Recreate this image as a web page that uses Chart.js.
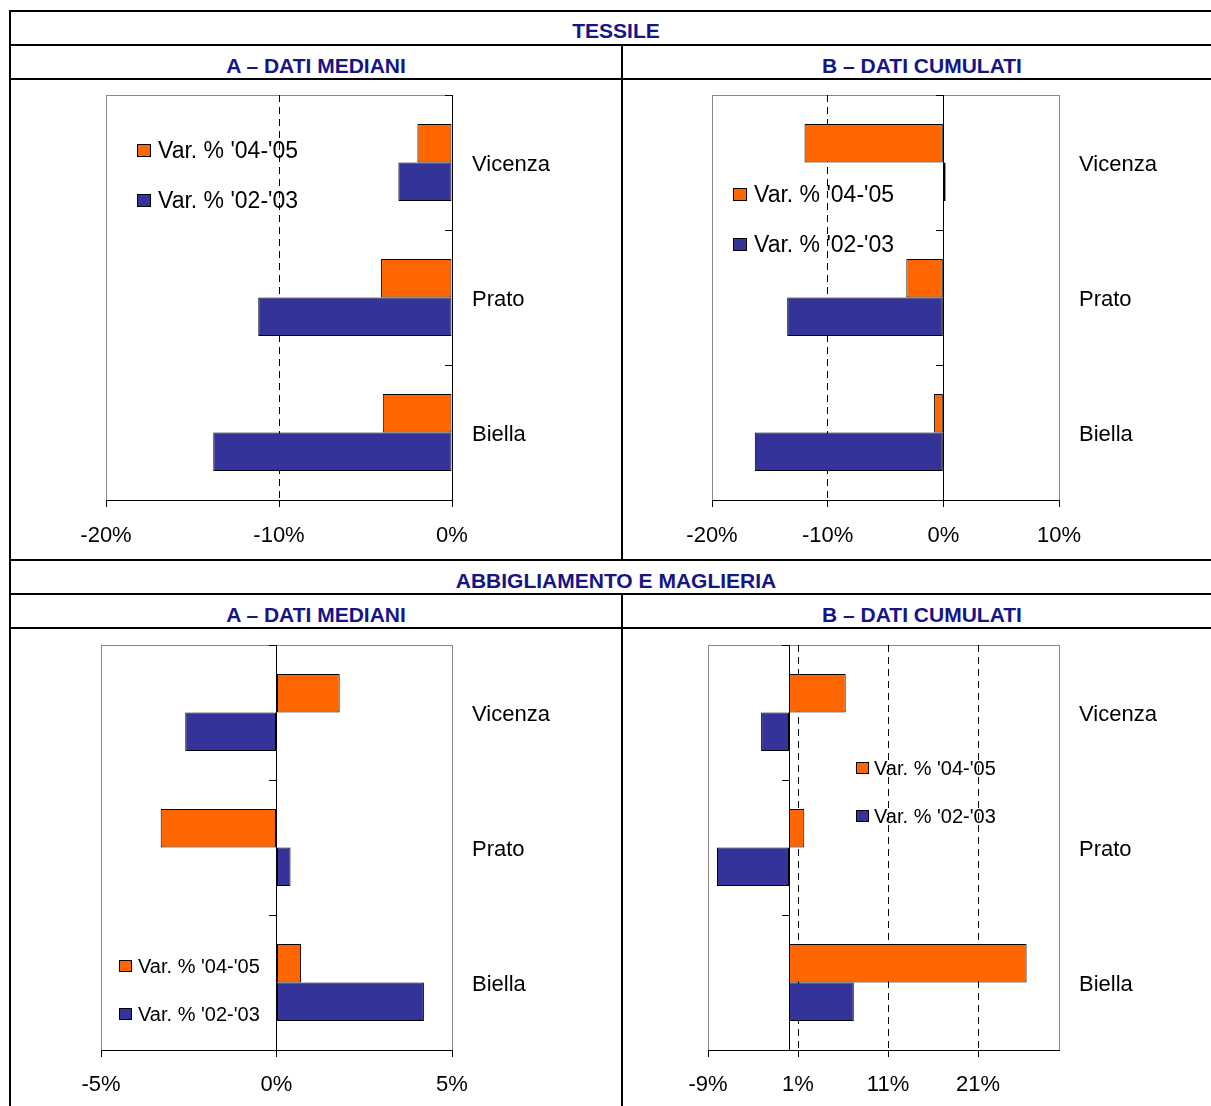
<!DOCTYPE html>
<html>
<head>
<meta charset="UTF-8">
<title>Tessile e abbigliamento - variazioni per distretto</title>
<script src="https://cdn.jsdelivr.net/npm/chart.js"></script>
<style>
    body {
        margin: 0;
        background: #fff;
        font-family: Arial, "Liberation Sans", sans-serif;
        overflow: hidden;
    }
    #page {
        position: relative;
        width: 1211px;
        height: 1106px;
        overflow: hidden;
    }
    .hline, .vline {
        position: absolute;
        background: #000;
    }
    .hline { left: 9px; width: 1230px; height: 2px; }
    .vline { width: 2px; }
    .head {
        position: absolute;
        text-align: center;
        color: #151585;
        font-weight: bold;
        font-size: 21px;
        line-height: 24px;
    }
    .panel { position: absolute; }
    .legend-item {
        position: absolute;
        display: flex;
        align-items: center;
        white-space: nowrap;
        color: #000;
    }
    .legend-box {
        border: 1px solid #000;
        box-sizing: border-box;
    }
</style>
</head>
<body>
<div id="page">
    <!-- table grid -->
    <div class="hline" style="top:10px"></div>
    <div class="hline" style="top:44px"></div>
    <div class="hline" style="top:78px"></div>
    <div class="hline" style="top:559px"></div>
    <div class="hline" style="top:593px"></div>
    <div class="hline" style="top:627px"></div>
    <div class="vline" style="left:9px; top:10px; height:1100px"></div>
    <div class="vline" style="left:621px; top:44px; height:517px"></div>
    <div class="vline" style="left:621px; top:593px; height:520px"></div>

    <div class="head" style="left:11px; width:1210px; top:19px">TESSILE</div>
    <div class="head" style="left:11px; width:610px; top:54px">A – DATI MEDIANI</div>
    <div class="head" style="left:623px; width:598px; top:54px">B – DATI CUMULATI</div>
    <div class="head" style="left:11px; width:1210px; top:569px">ABBIGLIAMENTO E MAGLIERIA</div>
    <div class="head" style="left:11px; width:610px; top:603px">A – DATI MEDIANI</div>
    <div class="head" style="left:623px; width:598px; top:603px">B – DATI CUMULATI</div>

    <div class="panel" style="left:11px; top:80px; width:610px; height:479px"><canvas id="tessileMediani"></canvas></div>
    <div class="panel" style="left:623px; top:80px; width:598px; height:479px"><canvas id="tessileCumulati"></canvas></div>
    <div class="panel" style="left:11px; top:629px; width:610px; height:477px"><canvas id="abbMediani"></canvas></div>
    <div class="panel" style="left:623px; top:629px; width:598px; height:477px"><canvas id="abbCumulati"></canvas></div>
</div>

<script>
    const categories = ['Vicenza', 'Prato', 'Biella'];
    const seriesNames = ["Var. % '04-'05", "Var. % '02-'03"];
    const seriesColors = ['#ff6600', '#333399'];

    // Tessile
    const tessileMediani0405 = [-2.0, -4.1, -4.0];
    const tessileMediani0203 = [-3.1, -11.2, -13.8];
    const tessileMedianiTicks = [-20, -10, 0];
    const tessileMedianiRange = [-20, 0];

    const tessileCumulati0405 = [-12.0, -3.2, -0.8];
    const tessileCumulati0203 = [0.2, -13.5, -16.3];
    const tessileCumulatiTicks = [-20, -10, 0, 10];
    const tessileCumulatiRange = [-20, 10];

    // Abbigliamento e maglieria
    const abbMediani0405 = [1.8, -3.3, 0.7];
    const abbMediani0203 = [-2.6, 0.4, 4.2];
    const abbMedianiTicks = [-5, 0, 5];
    const abbMedianiRange = [-5, 5];

    const abbCumulati0405 = [6.3, 1.7, 26.4];
    const abbCumulati0203 = [-3.1, -8.0, 7.2];
    const abbCumulatiTicks = [-9, 1, 11, 21];
    const abbCumulatiRange = [-9, 30];

    Chart.defaults.font.family = 'Arial, "Liberation Sans", sans-serif';
    Chart.defaults.color = '#000';

    // grey frame round the plot area
    const plotFrame = {
        id: 'plotFrame',
        beforeDraw(chart) {
            const { ctx, chartArea: a } = chart;
            ctx.save();
            ctx.strokeStyle = '#888';
            ctx.lineWidth = 1;
            ctx.strokeRect(Math.round(a.left) + 0.5, Math.round(a.top) + 0.5,
                Math.round(a.right - a.left), Math.round(a.bottom - a.top));
            ctx.restore();
        }
    };

    // area = plot rectangle inside the canvas
    function panel(id, values0405, values0203, ticks, range, area, tickPad) {
        const canvas = document.getElementById(id);
        const box = canvas.parentNode;
        const w = box.clientWidth, h = box.clientHeight;
        return new Chart(canvas, {
            type: 'bar',
            data: {
                labels: categories,
                datasets: [values0405, values0203].map((vals, i) => ({
                    label: seriesNames[i],
                    data: vals,
                    backgroundColor: seriesColors[i],
                    borderColor: '#000',
                    borderWidth: 1,
                    borderSkipped: false,
                    categoryPercentage: 0.57,
                    barPercentage: 1.0
                }))
            },
            options: {
                indexAxis: 'y',
                responsive: true,
                maintainAspectRatio: false,
                animation: false,
                layout: { padding: { left: area.left, top: area.top, right: 0, bottom: 0 } },
                plugins: { legend: { display: false }, tooltip: { enabled: false } },
                scales: {
                    x: {
                        type: 'linear',
                        min: range[0],
                        max: range[1],
                        afterBuildTicks: s => { s.ticks = ticks.map(v => ({ value: v })); },
                        afterFit: s => { s.height = h - area.bottom; },
                        grid: {
                            color: c => (c.tick && c.tick.value !== 0 &&
                                c.tick.value > range[0] && c.tick.value < range[1]) ? '#000' : 'rgba(0,0,0,0)',
                            tickColor: '#000',
                            tickLength: 7
                        },
                        border: { color: '#000', width: 1, dash: [7, 5] },
                        ticks: {
                            font: { size: 22 },
                            padding: tickPad,
                            maxRotation: 0,
                            callback: v => v + '%'
                        }
                    },
                    y: {
                        type: 'category',
                        position: { x: 0 },
                        offset: true,
                        grid: { drawOnChartArea: false, tickLength: 7, color: '#000', offset: true },
                        ticks: { display: false },
                        border: { color: '#000', width: 1 }
                    },
                    y2: {
                        type: 'category',
                        axis: 'y',
                        labels: categories,
                        position: 'right',
                        offset: true,
                        afterFit: s => { s.width = w - area.right; },
                        grid: { display: false, drawTicks: true, tickLength: 20 },
                        border: { display: false },
                        ticks: { font: { size: 22 }, padding: 0, labelOffset: 2 }
                    }
                }
            },
            plugins: [plotFrame]
        });
    }

    function legend(left, top, rowGap, fontSize, boxW, boxH, textLeft) {
        const page = document.getElementById('page');
        seriesNames.forEach((name, i) => {
            const item = document.createElement('div');
            item.className = 'legend-item';
            item.style.left = left + 'px';
            item.style.top = (top + i * rowGap - 15) + 'px';
            item.style.height = '30px';
            item.style.fontSize = fontSize + 'px';
            const sq = document.createElement('span');
            sq.className = 'legend-box';
            sq.style.width = boxW + 'px';
            sq.style.height = boxH + 'px';
            sq.style.background = seriesColors[i];
            sq.style.marginRight = (textLeft - left - boxW) + 'px';
            const txt = document.createElement('span');
            txt.textContent = name;
            item.appendChild(sq);
            item.appendChild(txt);
            page.appendChild(item);
        });
    }

    panel('tessileMediani', tessileMediani0405, tessileMediani0203, tessileMedianiTicks, tessileMedianiRange,
        { left: 95, top: 15, right: 441, bottom: 420 }, 16);
    panel('tessileCumulati', tessileCumulati0405, tessileCumulati0203, tessileCumulatiTicks, tessileCumulatiRange,
        { left: 89, top: 15, right: 436, bottom: 420 }, 16);
    panel('abbMediani', abbMediani0405, abbMediani0203, abbMedianiTicks, abbMedianiRange,
        { left: 90, top: 16, right: 441, bottom: 421 }, 15);
    panel('abbCumulati', abbCumulati0405, abbCumulati0203, abbCumulatiTicks, abbCumulatiRange,
        { left: 85, top: 16, right: 436, bottom: 421 }, 15);

    legend(137, 150, 50, 23, 14, 13, 158);
    legend(733, 194, 50, 23, 14, 13, 754);
    legend(119, 966, 48, 20, 13, 12, 138);
    legend(856, 768, 48, 20, 13, 12, 874);
</script>
</body>
</html>
